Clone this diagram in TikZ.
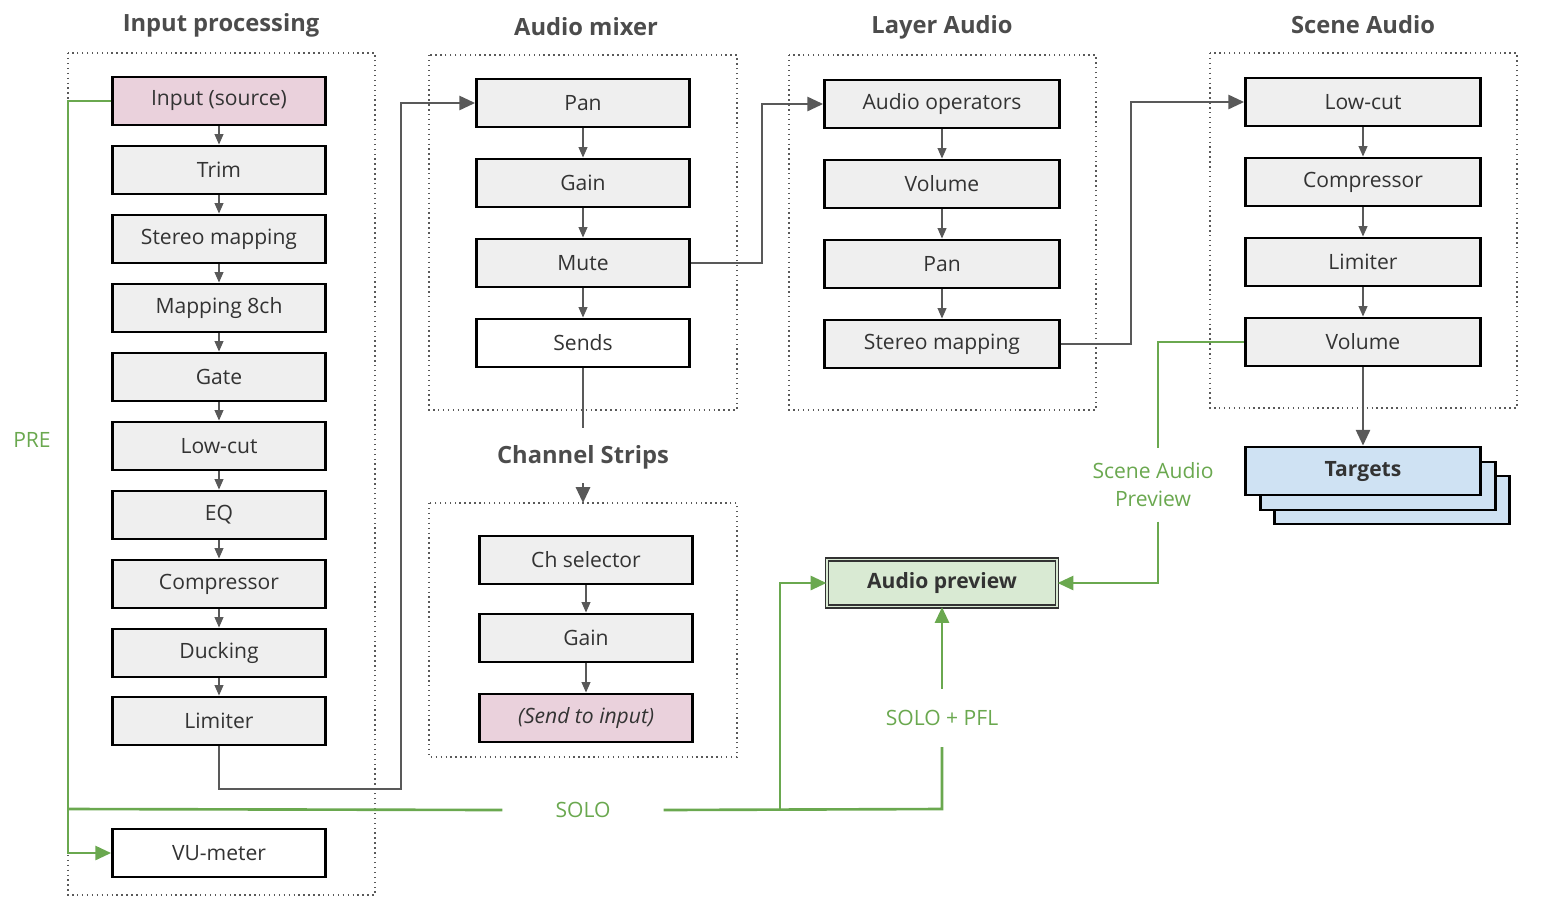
\documentclass[tikz,border=0pt]{standalone}
\usepackage{fontspec}
\setmainfont{Open Sans}
\usetikzlibrary{arrows.meta,calc}
\definecolor{boxfill}{HTML}{EFEFEF}
\definecolor{pinkf}{HTML}{EAD1DC}
\definecolor{bluef}{HTML}{CFE2F3}
\definecolor{greenf}{HTML}{D9EAD3}
\definecolor{gr}{HTML}{6AA84F}
\definecolor{dk}{HTML}{595959}
\begin{document}
\begin{tikzpicture}[x=0.02cm,y=-0.02cm,
 box/.style={draw=black,line width=1.6pt,fill=boxfill,minimum height=0.96cm,inner sep=0pt,font=\fontsize{12}{14}\selectfont,text=black!80},
 bA/.style={box,minimum width=4.26cm},
 bB/.style={box,minimum width=4.7cm},
 grp/.style={draw=dk,dotted,line width=0.8pt},
 ttl/.style={font=\bfseries\fontsize{13.5}{16}\selectfont,text=black!70},
 sa/.style={-{Triangle[width=5pt,length=6pt]},draw=dk,line width=0.9pt},
 la/.style={-{Triangle[width=8pt,length=9pt]},draw=dk,line width=1.5pt},
 ga/.style={-{Triangle[width=8pt,length=9pt]},draw=gr,line width=1.5pt},
 gl/.style={draw=gr,line width=1.5pt},
 glab/.style={text=gr,font=\fontsize{12}{14}\selectfont,align=center}]
\useasboundingbox (0,0) rectangle (1550,910);
% groups
\draw[grp] (68,53) rectangle (375,895);
\draw[grp] (429,55) rectangle (737,410);
\draw[grp] (789,55) rectangle (1096,410);
\draw[grp] (1210,53) rectangle (1517,408);
\draw[grp] (429,503) rectangle (737,757);
\node[ttl] (t1) at (221,25) {Input processing};
\node[ttl] (t2) at (586,27) {Audio mixer};
\node[ttl] (t3) at (942,27) {Layer Audio};
\node[ttl] (t4) at (1363,25) {Scene Audio};
\node[ttl] (t5) at (583,457) {Channel Strips};
% input processing
\node[bA,fill=pinkf] (i1) at (219,101) {Input (source)};
\node[bA] (i2) at (219,170) {Trim};
\node[bA] (i3) at (219,239) {Stereo mapping};
\node[bA] (i4) at (219,308) {Mapping 8ch};
\node[bA] (i5) at (219,377) {Gate};
\node[bA] (i6) at (219,446) {Low-cut};
\node[bA] (i7) at (219,515) {EQ};
\node[bA] (i8) at (219,584) {Compressor};
\node[bA] (i9) at (219,653) {Ducking};
\node[bA] (i10) at (219,721) {Limiter};
\node[bA,fill=white] (vu) at (219,853) {VU-meter};
\foreach \a/\b in {i1/i2,i2/i3,i3/i4,i4/i5,i5/i6,i6/i7,i7/i8,i8/i9,i9/i10}
 \draw[sa] (\a) -- (\b);
% mixer
\node[bA] (m1) at (583,103) {Pan};
\node[bA] (m2) at (583,183) {Gain};
\node[bA] (m3) at (583,263) {Mute};
\node[bA,fill=white] (m4) at (583,343) {Sends};
\foreach \a/\b in {m1/m2,m2/m3,m3/m4} \draw[sa] (\a) -- (\b);
% layer
\node[bB] (l1) at (942,104) {Audio operators};
\node[bB] (l2) at (942,184) {Volume};
\node[bB] (l3) at (942,264) {Pan};
\node[bB] (l4) at (942,344) {Stereo mapping};
\foreach \a/\b in {l1/l2,l2/l3,l3/l4} \draw[sa] (\a) -- (\b);
% scene
\node[bB] (s1) at (1363,102) {Low-cut};
\node[bB] (s2) at (1363,182) {Compressor};
\node[bB] (s3) at (1363,262) {Limiter};
\node[bB] (s4) at (1363,342) {Volume};
\foreach \a/\b in {s1/s2,s2/s3,s3/s4} \draw[sa] (\a) -- (\b);
\node[bB,fill=bluef] (tg3) at (1392,500) {};
\node[bB,fill=bluef] (tg2) at (1378,486) {};
\node[bB,fill=bluef,font=\bfseries\fontsize{12}{14}\selectfont] (tg) at (1363,471) {Targets};
% channel strips
\node[bA] (c1) at (586,560) {Ch selector};
\node[bA] (c2) at (586,638) {Gain};
\node[bA,fill=pinkf,font=\itshape\fontsize{12}{14}\selectfont] (c3) at (586,718) {(Send to input)};
\foreach \a/\b in {c1/c2,c2/c3} \draw[sa] (\a) -- (\b);
% preview
\node[box,minimum width=4.6cm,minimum height=0.94cm,fill=greenf,double=greenf,draw=black!80,line width=0.7pt,double distance=1pt,font=\bfseries\fontsize{12}{14}\selectfont] (ap) at (942,583) {Audio preview};
% dark connectors
\draw[la] (i10.south) |- (401,789) |- (m1.west);
\draw[la] (m3.east) -| (762,104) -- (l1.west);
\draw[la] (l4.east) -| (1131,102) -- (s1.west);
\draw[la] (s4.south) -- (tg.north);
\coordinate (sb) at (583,428);
\coordinate (cs) at (583,483);
\draw[dk,line width=1.5pt] (m4.south) -- (sb);
\draw[la] (cs) -- (583,503);
% green connectors
\node[glab] (pre) at (32,440) {PRE};
\node[glab,inner xsep=30pt] (solo) at (583,810) {SOLO};
\node[glab,inner ysep=12pt] (pfl) at (942,718) {SOLO + PFL};
\node[glab,inner ysep=8pt] (sap) at (1153,485) {Scene Audio\\[2pt]Preview};
\draw[ga] (i1.west) -- (68,101) |- (vu.west);
\draw[gl] (68,809) -- (solo.west);
\draw[gl] (solo.east) -- (942,809) -- (pfl.south);
\draw[ga] (pfl.north) -- (ap.south);
\draw[ga] (780,809) |- (ap.west);
\draw[gl] (s4.west) -| (sap.north -| 1158,0);
\draw[ga] (sap.south -| 1158,0) |- (ap.east);
\end{tikzpicture}
\end{document}
